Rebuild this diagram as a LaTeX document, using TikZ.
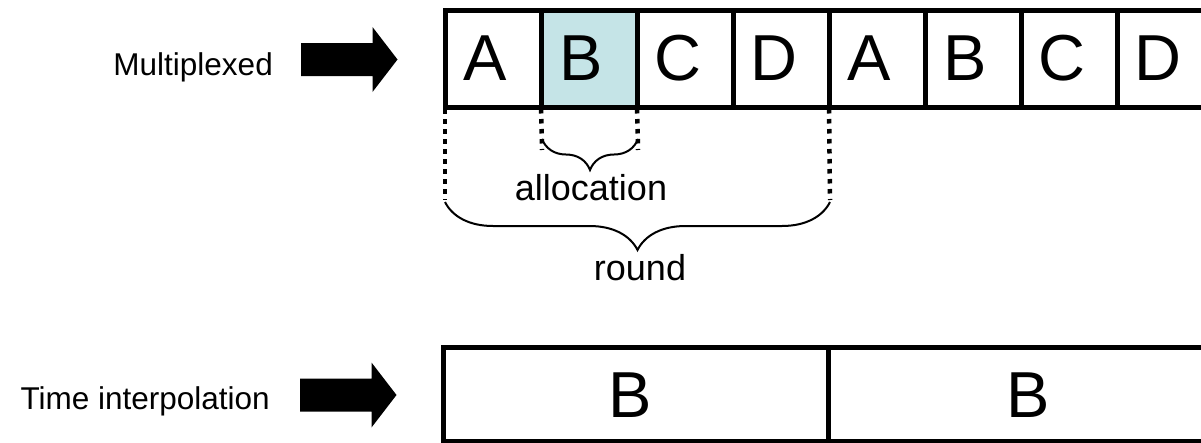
\documentclass[tikz,border=0pt]{standalone}
\usepackage{fontspec}
\setmainfont{Liberation Sans}
\usetikzlibrary{decorations.pathreplacing}
\definecolor{slotblue}{RGB}{197,228,231}
\begin{document}
\begin{tikzpicture}[x=1pt,y=-1pt,
  cell/.style={draw, line width=5pt, minimum width=96pt, minimum height=96.5pt,
               inner sep=0pt, outer sep=0pt},
  wide/.style={draw, line width=5pt, minimum width=385pt, minimum height=94pt,
               inner sep=0pt, outer sep=0pt},
  letter/.style={font=\fontsize{65}{70}\selectfont, inner sep=0pt, anchor=base},
  caption/.style={font=\fontsize{31.5}{36}\selectfont, inner sep=0pt, anchor=base east},
  note/.style={font=\fontsize{36}{40}\selectfont, inner sep=0pt, anchor=base},
  dotline/.style={line width=4.5pt, dash pattern=on 4.5pt off 5.5pt, dash phase=-2pt},
  curly/.style={line width=2pt, decorate},
  fatarrow/.pic={\fill (0,-16.5) -- (71.5,-16.5) -- (71.5,-32.5) -- (96.5,0)
                    -- (71.5,32.5) -- (71.5,16.5) -- (0,16.5) -- cycle;}]
\useasboundingbox (0,0) rectangle (1201,442);
\clip (0,0) rectangle (1201,442);

% row labels and arrows
\node[caption] (lmux) at (273,75) {Multiplexed};
\node[caption] (ltime) at (270,409) {Time interpolation};
\pic at (301,59.5) {fatarrow};
\pic at (300,395) {fatarrow};

% multiplexed slots
\node[cell] (c1) at (493,58.75) {};
\node[cell, fill=slotblue] (c2) at (589,58.75) {};
\node[cell] (c3) at (685,58.75) {};
\node[cell] (c4) at (781,58.75) {};
\node[cell] (c5) at (877,58.75) {};
\node[cell] (c6) at (973,58.75) {};
\node[cell] (c7) at (1069,58.75) {};
\node[cell] (c8) at (1165,58.75) {};
\foreach \c/\t in {c1/A,c2/B,c3/C,c4/D,c5/A,c6/B,c7/C,c8/D}
  \node[letter] (t\c) at ([xshift=-7.5pt,yshift=27pt]\c.south) {\t};

% interpolated slots
\node[wide] (b1) at (635.5,394) {};
\node[wide] (b2) at (1020.5,394) {};
\node[letter] (tb1) at ([xshift=-5.5pt,yshift=24pt]b1.south) {B};
\node[letter] (tb2) at ([xshift=7.5pt,yshift=24pt]b2.south) {B};

% guide lines under the slots
\coordinate (r1) at (445,200);
\coordinate (r2) at (830,200);
\coordinate (a1) at (542,150);
\coordinate (a2) at (638,150);
\draw[dotline] (c1.south west) -- (r1);
\draw[dotline] (c5.south west) -- (r2);
\draw[dotline] (c2.south west) -- (a1);
\draw[dotline] (c2.south east) -- (a2);

% braces
\coordinate (ab1) at (542,139);
\coordinate (ab2) at (638,139);
\coordinate (rb1) at (445,202);
\coordinate (rb2) at (830,202);
\draw[curly, decoration={brace, amplitude=31pt}] (ab2) -- (ab1);
\draw[curly, decoration={brace, amplitude=48pt}] (rb2) -- (rb1);
\node[note] (alloc) at (591,200) {allocation};
\node[note] (round) at (640,280) {round};
\end{tikzpicture}
\end{document}
